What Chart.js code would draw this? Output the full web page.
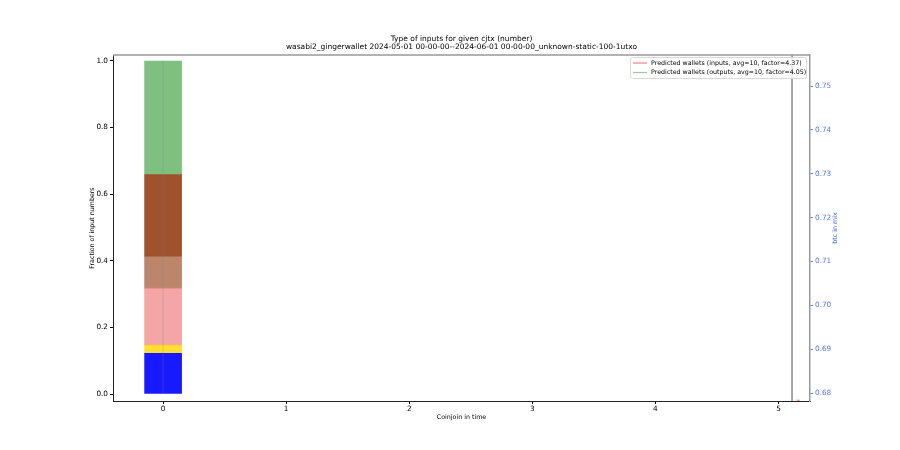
<!DOCTYPE html>
<html>
<head>
<meta charset="utf-8">
<script src="https://cdn.jsdelivr.net/npm/chart.js@4.4.1/dist/chart.umd.min.js"></script>
<style>
  html, body { margin: 0; padding: 0; background: #fff; }
  #wrap { width: 900px; height: 450px; }
</style>
</head>
<body>
<div id="wrap"><canvas id="cjChart" width="900" height="450"></canvas></div>
<script>
// data
const titleLines = [
    'Type of inputs for given cjtx (number)',
    'wasabi2_gingerwallet 2024-05-01 00-00-00--2024-06-01 00-00-00_unknown-static-100-1utxo'
];
const xTickValues = [0, 1, 2, 3, 4, 5];
const yTickValues = [0, 0.2, 0.4, 0.6, 0.8, 1.0];
const y2TickValues = [0.68, 0.69, 0.70, 0.71, 0.72, 0.73, 0.74, 0.75];

const coinjoinIdx = [0];
// stacked fractions for coinjoin 0, bottom to top
const fracBlue = [0.122];
const fracYellow = [0.025];
const fracPink = [0.171];
const fracRosy = [0.096];
const fracSienna = [0.245];
const fracGreen = [0.341];

const separatorX = [5.11];
const inputsWalletX = [5.16];
const inputsWalletY = [-0.019];

const legendLabels = [
    'Predicted wallets (inputs, avg=10, factor=4.37)',
    'Predicted wallets (outputs, avg=10, factor=4.05)'
];

const FONT = 'DejaVu Sans';

// build floating bars from the stacked fractions
const layers = [
    { vals: fracBlue,   color: 'rgba(0,0,255,0.9)' },
    { vals: fracYellow, color: 'rgba(255,215,0,0.8)' },
    { vals: fracPink,   color: 'rgba(240,128,128,0.7)' },
    { vals: fracRosy,   color: 'rgba(160,82,45,0.7)' },
    { vals: fracSienna, color: 'rgba(160,82,45,1)' },
    { vals: fracGreen,  color: 'rgba(0,128,0,0.5)' }
];
let base = coinjoinIdx.map(() => 0);
const datasets = [];
layers.forEach(l => {
    datasets.push({
        type: 'bar',
        label: '',
        data: coinjoinIdx.map((x, i) => ({ x: x, y: [base[i], base[i] + l.vals[i]] })),
        backgroundColor: l.color,
        borderWidth: 0,
        barThickness: 37,
        grouped: false,
        yAxisID: 'y',
        order: 5
    });
    base = base.map((b, i) => b + l.vals[i]);
});

// faint line through the bar centre
datasets.push({
    type: 'line',
    label: '',
    data: [{ x: coinjoinIdx[0], y: 0 }, { x: coinjoinIdx[0], y: base[0] }],
    borderColor: 'rgba(128,128,128,0.25)',
    borderWidth: 1,
    pointRadius: 0,
    yAxisID: 'y',
    order: 1
});

// vertical separator
datasets.push({
    type: 'line',
    label: '',
    data: [{ x: separatorX[0], y: -0.021 }, { x: separatorX[0], y: 1.018 }],
    borderColor: 'rgba(60,60,60,0.9)',
    borderWidth: 1,
    pointRadius: 0,
    yAxisID: 'y',
    order: 1
});

// predicted wallets (inputs) - only a tiny red mark shows
datasets.push({
    type: 'line',
    label: legendLabels[0],
    data: inputsWalletX.map((x, i) => ({ x: x, y: inputsWalletY[i] })),
    borderColor: 'rgba(255,0,0,0.4)',
    backgroundColor: 'rgba(255,0,0,0.4)',
    pointStyle: 'line',
    pointRadius: 1.5,
    borderWidth: 1.5,
    yAxisID: 'y',
    order: 0
});
datasets.push({
    type: 'line',
    label: legendLabels[1],
    data: [],
    borderColor: 'rgba(0,128,0,0.4)',
    yAxisID: 'y2'
});

const textPlugin = {
    id: 'mplText',
    afterDraw(chart) {
        const ctx = chart.ctx;
        const a = chart.chartArea;
        const cx = (a.left + a.right) / 2;
        ctx.save();

        // top spine
        ctx.strokeStyle = '#999';
        ctx.lineWidth = 1.5;
        ctx.beginPath();
        ctx.moveTo(a.left, a.top);
        ctx.lineTo(a.right, a.top);
        ctx.stroke();

        ctx.fillStyle = '#000';
        ctx.textAlign = 'center';
        ctx.textBaseline = 'middle';
        ctx.font = '7.5px "' + FONT + '"';
        ctx.fillText(titleLines[0], cx, 39);
        ctx.fillText(titleLines[1], cx, 47.5);

        ctx.font = '6.3px "' + FONT + '"';
        ctx.fillText('Coinjoin in time', cx, 417);
        ctx.save();
        ctx.translate(92, (a.top + a.bottom) / 2);
        ctx.rotate(-Math.PI / 2);
        ctx.fillText('Fraction of input numbers', 0, 0);
        ctx.restore();
        ctx.save();
        ctx.fillStyle = '#4169E1';
        ctx.translate(835, (a.top + a.bottom) / 2);
        ctx.rotate(-Math.PI / 2);
        ctx.fillText('btc in mix', 0, 0);
        ctx.restore();

        // legend box
        const lx = 630, ly = 57, lw = 176, lh = 21;
        ctx.fillStyle = 'rgba(255,255,255,0.8)';
        ctx.strokeStyle = '#d8d8d8';
        ctx.lineWidth = 1;
        ctx.beginPath();
        ctx.roundRect(lx + 0.5, ly + 0.5, lw, lh, 2);
        ctx.fill();
        ctx.stroke();
        const legColors = ['rgba(255,0,0,0.5)', 'rgba(0,128,0,0.4)'];
        ctx.font = '6.3px "' + FONT + '"';
        ctx.textAlign = 'left';
        legendLabels.forEach((t, i) => {
            const y = ly + 6 + i * 9.5;
            ctx.strokeStyle = legColors[i];
            ctx.lineWidth = 1.2;
            ctx.beginPath();
            ctx.moveTo(lx + 3, y);
            ctx.lineTo(lx + 17, y);
            ctx.stroke();
            ctx.fillStyle = '#000';
            ctx.fillText(t, lx + 21, y);
        });
        ctx.restore();
    }
};

const tickFont = { family: FONT, size: 7.3 };

new Chart(document.getElementById('cjChart'), {
    data: { datasets: datasets },
    options: {
        responsive: false,
        devicePixelRatio: 1,
        animation: false,
        layout: { padding: { top: 55, left: 0, right: 0, bottom: 0 } },
        plugins: {
            legend: { display: false },
            title: { display: false },
            tooltip: { enabled: false }
        },
        scales: {
            x: {
                type: 'linear',
                offset: false,
                min: -0.407,
                max: 5.256,
                afterBuildTicks: s => { s.ticks = xTickValues.map(v => ({ value: v })); },
                afterFit: s => { s.height = 49; },
                ticks: { color: '#000', font: tickFont, padding: 1, callback: v => v },
                grid: { drawOnChartArea: false, offset: false, tickLength: 3, color: '#000' },
                border: { color: '#222', width: 1 }
            },
            y: {
                type: 'linear',
                position: 'left',
                min: -0.021,
                max: 1.018,
                afterBuildTicks: s => { s.ticks = yTickValues.map(v => ({ value: v })); },
                afterFit: s => { s.width = 113; },
                ticks: { color: '#000', font: tickFont, padding: 2, callback: v => v.toFixed(1) },
                grid: { drawOnChartArea: false, tickLength: 3, color: '#000' },
                border: { color: '#222', width: 1 }
            },
            y2: {
                type: 'linear',
                position: 'right',
                min: 0.6782,
                max: 0.7571,
                afterBuildTicks: s => { s.ticks = y2TickValues.map(v => ({ value: v })); },
                afterFit: s => { s.width = 90; },
                ticks: { color: '#5a78e6', font: tickFont, padding: 2, callback: v => v.toFixed(2) },
                grid: { drawOnChartArea: false, tickLength: 3, color: '#5a78e6' },
                border: { color: '#999', width: 1.5 }
            }
        }
    },
    plugins: [textPlugin]
});
</script>
</body>
</html>
